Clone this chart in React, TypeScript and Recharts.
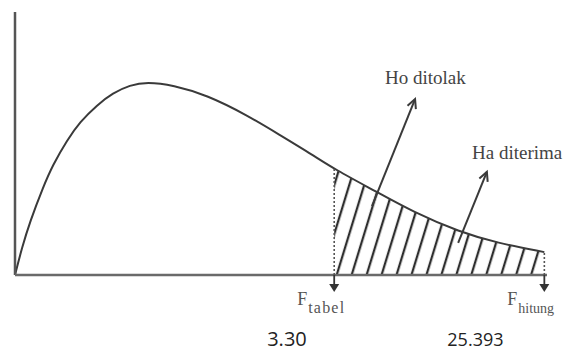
import {
  ComposedChart,
  Line,
  Area,
  XAxis,
  YAxis,
  ReferenceLine,
  ReferenceDot,
} from "recharts";

// Schematic F-distribution curve
const xValues = [
  0, 0.13, 0.28, 0.53, 0.71, 0.98, 1.22, 1.54, 1.84, 2.16, 2.48, 2.97, 3.61,
  4.36, 4.98, 5.6, 6.0, 6.8, 7.48, 8.36, 9.06, 9.95,
];
const densityValues = [
  0, 0.103, 0.202, 0.335, 0.418, 0.513, 0.582, 0.646, 0.692, 0.722, 0.734,
  0.722, 0.684, 0.608, 0.532, 0.456, 0.403, 0.316, 0.24, 0.163, 0.122, 0.087,
];

const criticalX = 6.0; // F tabel
const observedX = 9.95; // F hitung
const markerSubs = ["tabel", "hitung"];
const markerValues = ["3.30", "25.393"];

const noteTexts = ["Ho ditolak", "Ha diterima"];
const noteFrom = [
  { x: 6.71, y: 0.262 },
  { x: 8.33, y: 0.122 },
];
const noteTo = [
  { x: 7.52, y: 0.669 },
  { x: 8.87, y: 0.392 },
];
const noteAt = [
  { x: 6.955, y: 0.726 },
  { x: 8.59, y: 0.441 },
];

const data = xValues.map((x, i) => ({
  x,
  density: densityValues[i],
  tail: x >= criticalX - 1e-9 ? densityValues[i] : null,
}));

const densityAt = (x: number) =>
  data.find((d) => Math.abs(d.x - x) < 1e-9)?.density ?? 0;

const markers = [criticalX, observedX].map((x, i) => ({
  x,
  sub: markerSubs[i],
  value: markerValues[i],
}));

// label styling per marker (offsets from the arrow)
const markerStyle = [
  { subSize: 16, subSpacing: 1.2, valueDx: -67, valueSize: 20 },
  { subSize: 14, subSpacing: 0, valueDx: -97, valueSize: 18 },
];

const ink = "#3a3a3a";

function Arrow(props: any) {
  const { x1, y1, x2, y2 } = props;
  const dx = x2 - x1;
  const dy = y2 - y1;
  const len = Math.hypot(dx, dy) || 1;
  const ux = dx / len;
  const uy = dy / len;
  const bx = x2 - ux * 9;
  const by = y2 - uy * 9;
  const px = -uy * 4.5;
  const py = ux * 4.5;
  return (
    <g stroke={ink} strokeWidth={2} fill="none">
      <line x1={x1} y1={y1} x2={x2} y2={y2} />
      <polyline
        points={`${bx + px},${by + py} ${x2},${y2} ${bx - px},${by - py}`}
        strokeLinejoin="miter"
      />
    </g>
  );
}

export default function App() {
  return (
    <div style={{ position: "absolute", left: 0, top: 0, background: "#fff" }}>
      <ComposedChart
        width={571}
        height={351}
        data={data}
        margin={{ top: 12, right: 24, bottom: 76, left: 15 }}
      >
        <defs>
          <pattern
            id="hatch"
            patternUnits="userSpaceOnUse"
            width={14.3}
            height={14.3}
            patternTransform="rotate(17)"
          >
            <line x1={2} y1={-1} x2={2} y2={15.3} stroke="#2e2e2e" strokeWidth={2.3} />
          </pattern>
        </defs>
        <XAxis dataKey="x" type="number" domain={[0, 10]} hide />
        <YAxis type="number" domain={[0, 1]} hide />
        <Area
          dataKey="tail"
          type="basis"
          stroke="none"
          fill="url(#hatch)"
          fillOpacity={1}
          isAnimationActive={false}
        />
        <Line
          dataKey="density"
          type="basis"
          stroke={ink}
          strokeWidth={2}
          dot={false}
          isAnimationActive={false}
        />
        <ReferenceLine x={0} stroke="#555" strokeWidth={2.5} />
        <ReferenceLine y={0} stroke="#6a6a6a" strokeWidth={2.5} />
        {markers.map((m) => (
          <ReferenceLine
            key={"dot" + m.x}
            segment={[
              { x: m.x, y: 0 },
              { x: m.x, y: densityAt(m.x) },
            ]}
            stroke="#555"
            strokeWidth={1.6}
            strokeDasharray="2 2"
          />
        ))}
        {markers.map((m, i) => (
          <ReferenceDot
            key={"mk" + m.x}
            x={m.x}
            y={0}
            shape={(p: any) => {
              const s = markerStyle[i];
              return (
                <g>
                  <line
                    x1={p.cx}
                    y1={p.cy}
                    x2={p.cx}
                    y2={p.cy + 11}
                    stroke="#333"
                    strokeWidth={1.8}
                  />
                  <polygon
                    points={`${p.cx - 5},${p.cy + 9} ${p.cx + 5},${p.cy + 9} ${p.cx},${p.cy + 17}`}
                    fill="#333"
                  />
                  <text
                    x={p.cx - 37}
                    y={p.cy + 30}
                    fontFamily="'Liberation Serif', 'DejaVu Serif', serif"
                    fontSize={18}
                    fill="#555"
                  >
                    F
                    <tspan
                      dy={8}
                      dx={1}
                      fontSize={s.subSize}
                      letterSpacing={s.subSpacing}
                    >
                      {m.sub}
                    </tspan>
                  </text>
                  <text
                    x={p.cx + s.valueDx}
                    y={p.cy + 71}
                    fontFamily="'Open Sans', 'Noto Sans', sans-serif"
                    fontSize={s.valueSize}
                    fill="#222"
                  >
                    {m.value}
                  </text>
                </g>
              );
            }}
          />
        ))}
        {noteTexts.map((t, i) => (
          <ReferenceLine
            key={"ar" + t}
            segment={[noteFrom[i], noteTo[i]]}
            shape={Arrow}
          />
        ))}
        {noteTexts.map((t, i) => (
          <ReferenceDot
            key={"nt" + t}
            x={noteAt[i].x}
            y={noteAt[i].y}
            shape={(p: any) => (
              <text
                x={p.cx}
                y={p.cy}
                fontFamily="'Liberation Serif', 'DejaVu Serif', serif"
                fontSize={19}
                fill="#444"
              >
                {t}
              </text>
            )}
          />
        ))}
      </ComposedChart>
    </div>
  );
}
